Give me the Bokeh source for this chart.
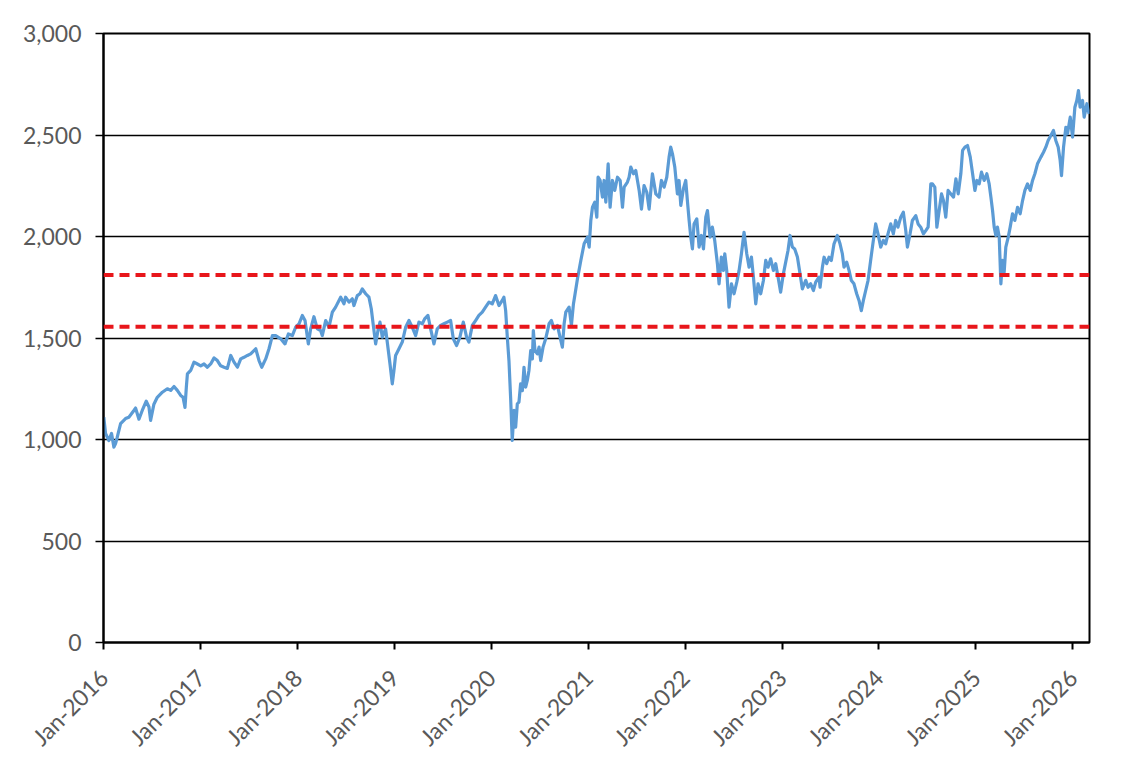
from datetime import datetime
from bokeh.plotting import figure
from bokeh.models import Range1d, FixedTicker, DatetimeTickFormatter, NumeralTickFormatter, Span, ColumnDataSource
from bokeh.embed import file_html
from bokeh.resources import INLINE

# ---- data ----
year_pos = [
    2016.003, 2016.021, 2016.055, 2016.083, 2016.107, 2016.124, 2016.141, 2016.176, 2016.227, 2016.261,
    2016.313, 2016.330, 2016.365, 2016.399, 2016.440, 2016.468, 2016.485, 2016.519, 2016.554, 2016.606,
    2016.657, 2016.692, 2016.726, 2016.760, 2016.795, 2016.819, 2016.839, 2016.853, 2016.864, 2016.898,
    2016.932, 2016.967, 2017.001, 2017.035, 2017.070, 2017.104, 2017.139, 2017.173, 2017.207, 2017.242,
    2017.276, 2017.311, 2017.345, 2017.380, 2017.414, 2017.448, 2017.483, 2017.517, 2017.569, 2017.603,
    2017.631, 2017.672, 2017.706, 2017.741, 2017.775, 2017.827, 2017.871, 2017.906, 2017.947, 2017.981,
    2018.016, 2018.050, 2018.078, 2018.112, 2018.136, 2018.170, 2018.205, 2018.239, 2018.256, 2018.291,
    2018.325, 2018.360, 2018.394, 2018.446, 2018.480,
    2018.497, 2018.532, 2018.566, 2018.583, 2018.618, 2018.645, 2018.669, 2018.704, 2018.738, 2018.762,
    2018.783, 2018.807, 2018.831, 2018.852, 2018.876, 2018.910, 2018.927, 2018.955, 2018.979, 2018.996,
    2019.013, 2019.048, 2019.082, 2019.117, 2019.151, 2019.185, 2019.220, 2019.254, 2019.289, 2019.313,
    2019.347, 2019.375, 2019.409, 2019.443, 2019.478, 2019.512, 2019.547, 2019.581, 2019.609, 2019.643,
    2019.677, 2019.712, 2019.746, 2019.770, 2019.805, 2019.839, 2019.873, 2019.908, 2019.942, 2019.977,
    2020.011, 2020.045, 2020.080, 2020.114, 2020.131, 2020.149, 2020.166, 2020.183, 2020.200, 2020.217,
    2020.235, 2020.252, 2020.269, 2020.286, 2020.303, 2020.321, 2020.338, 2020.355, 2020.372, 2020.389,
    2020.407, 2020.424, 2020.434, 2020.451, 2020.475, 2020.493, 2020.510, 2020.534, 2020.561, 2020.596,
    2020.620, 2020.647, 2020.682, 2020.709, 2020.733, 2020.751, 2020.768, 2020.802, 2020.826, 2020.847,
    2020.864, 2020.888,
    2020.923, 2020.957, 2020.991, 2021.009, 2021.026, 2021.043, 2021.067, 2021.088, 2021.101, 2021.122,
    2021.146, 2021.163, 2021.181, 2021.205, 2021.225, 2021.249, 2021.273, 2021.301, 2021.329, 2021.353,
    2021.370, 2021.404, 2021.421, 2021.439, 2021.466, 2021.490, 2021.525, 2021.549, 2021.576, 2021.604,
    2021.628, 2021.662, 2021.697, 2021.731, 2021.755, 2021.783, 2021.810, 2021.834, 2021.851, 2021.869,
    2021.893, 2021.920, 2021.937, 2021.955, 2021.982, 2022.006, 2022.023, 2022.041, 2022.058, 2022.075,
    2022.092, 2022.120, 2022.144, 2022.168, 2022.189, 2022.213, 2022.230, 2022.257, 2022.281, 2022.305,
    2022.333, 2022.350, 2022.374, 2022.395, 2022.409, 2022.429, 2022.453, 2022.478, 2022.505, 2022.533,
    2022.557, 2022.581, 2022.608, 2022.636, 2022.660, 2022.684, 2022.705, 2022.729, 2022.753, 2022.780,
    2022.808, 2022.832, 2022.856, 2022.883, 2022.911, 2022.935, 2022.959, 2022.986, 2023.014, 2023.038,
    2023.062, 2023.083, 2023.107, 2023.131, 2023.159, 2023.186, 2023.210, 2023.245, 2023.269, 2023.296,
    2023.324, 2023.348, 2023.382,
    2023.393, 2023.417, 2023.434, 2023.461, 2023.485, 2023.509, 2023.537, 2023.571, 2023.599, 2023.623,
    2023.640, 2023.668, 2023.692, 2023.716, 2023.743, 2023.771, 2023.795, 2023.819, 2023.840, 2023.864,
    2023.888, 2023.915, 2023.943, 2023.967, 2023.991, 2024.019, 2024.046, 2024.070, 2024.094, 2024.122,
    2024.149, 2024.173, 2024.197, 2024.225, 2024.252, 2024.277, 2024.294, 2024.321, 2024.345, 2024.380,
    2024.404, 2024.431, 2024.459, 2024.483, 2024.507, 2024.535, 2024.552, 2024.576, 2024.597, 2024.621,
    2024.645, 2024.665, 2024.689, 2024.713, 2024.741, 2024.769, 2024.793, 2024.817, 2024.844, 2024.862,
    2024.886, 2024.913, 2024.941, 2024.965, 2024.989, 2025.009, 2025.033, 2025.057, 2025.085, 2025.112,
    2025.136, 2025.154, 2025.171, 2025.188, 2025.205, 2025.222, 2025.240, 2025.257, 2025.274, 2025.291,
    2025.308, 2025.333, 2025.353, 2025.377, 2025.401, 2025.429, 2025.456, 2025.481, 2025.505, 2025.532,
    2025.560, 2025.584, 2025.608, 2025.635, 2025.670, 2025.697, 2025.721, 2025.745, 2025.773, 2025.800,
    2025.824, 2025.849, 2025.869, 2025.883, 2025.904, 2025.928, 2025.945, 2025.973, 2025.997, 2026.021,
    2026.041, 2026.058, 2026.075, 2026.100, 2026.117, 2026.145, 2026.168,
]

index_values = [
    1110, 1030, 995, 1030, 962, 980, 1010, 1078, 1103, 1110,
    1143, 1155, 1100, 1143, 1189, 1160, 1094, 1174, 1208, 1233,
    1250, 1242, 1261, 1242, 1217, 1208, 1158, 1258, 1323, 1340,
    1381, 1372, 1363, 1372, 1356, 1372, 1402, 1389, 1363, 1356,
    1350, 1414, 1381, 1356, 1397, 1405, 1414, 1422, 1447, 1389,
    1356, 1397, 1447, 1512, 1512, 1496, 1471, 1520, 1512, 1553,
    1570, 1611, 1586, 1471, 1545, 1605, 1545, 1537, 1512, 1586,
    1553, 1627, 1652, 1701, 1668,
    1701, 1677, 1693, 1660, 1709, 1718, 1742, 1718, 1701, 1644,
    1562, 1471, 1537, 1578, 1504, 1545, 1480, 1373, 1274, 1340,
    1414, 1447, 1480, 1553, 1586, 1553, 1512, 1578, 1570, 1594,
    1611, 1545, 1471, 1545, 1562, 1570, 1578, 1586, 1496, 1463,
    1504, 1578, 1504, 1480, 1562, 1586, 1611, 1627, 1652, 1677,
    1668, 1709, 1660, 1685, 1701, 1635, 1504, 1389, 1208, 995,
    1143, 1061, 1176, 1184, 1274, 1241, 1356, 1258, 1291, 1340,
    1438, 1397, 1537, 1438, 1422, 1455, 1389, 1455, 1496, 1570,
    1586, 1545, 1562, 1504, 1455, 1570, 1627, 1652, 1562, 1668,
    1718, 1791,
    1882, 1964, 1997, 1948, 2079, 2144, 2169, 2095, 2292, 2276,
    2194, 2276, 2169, 2358, 2144, 2276, 2227, 2292, 2276, 2144,
    2243, 2268, 2292, 2342, 2309, 2325, 2227, 2135, 2251, 2218,
    2135, 2309, 2210, 2194, 2276, 2243, 2292, 2391, 2440, 2407,
    2342, 2210, 2276, 2153, 2235, 2276, 2177, 2079, 1997, 1939,
    2062, 2087, 1948, 2005, 1939, 2095, 2128, 1997, 2046, 1981,
    1866, 1767, 1899, 1833, 1915, 1833, 1652, 1767, 1718, 1775,
    1833, 1915, 2021, 1915, 1849, 1899, 1800, 1668, 1767, 1718,
    1783, 1882, 1849, 1890, 1833, 1866, 1800, 1726, 1816, 1874,
    1931, 2005, 1948, 1939, 1899, 1816, 1742, 1784, 1750, 1767,
    1734, 1775, 1800,
    1750, 1849, 1898, 1866, 1898, 1882, 1964, 2005, 1964, 1915,
    1849, 1874, 1833, 1783, 1767, 1718, 1685, 1635, 1685, 1734,
    1783, 1882, 1981, 2062, 2013, 1948, 1981, 1964, 2013, 2062,
    2013, 2079, 2046, 2095, 2120, 2029, 1948, 2013, 2079, 2103,
    2062, 2046, 2013, 2029, 2046, 2259, 2259, 2243, 2046, 2128,
    2210, 2177, 2095, 2227, 2210, 2194, 2284, 2210, 2309, 2424,
    2440, 2448, 2391, 2309, 2227, 2276, 2259, 2317, 2276, 2309,
    2259, 2194, 2128, 2046, 2005, 2046, 1997, 1767, 1882, 1825,
    1948, 1997, 2046, 2112, 2079, 2144, 2112, 2177, 2227, 2259,
    2227, 2276, 2309, 2358, 2391, 2415, 2440, 2473, 2498, 2522,
    2473, 2440, 2375, 2300, 2440, 2538, 2506, 2588, 2490, 2637,
    2670, 2719, 2637, 2670, 2588, 2654, 2604,
]

reference_levels = [1810, 1555]
y_ticks = [0, 500, 1000, 1500, 2000, 2500, 3000]
x_tick_years = [2016, 2017, 2018, 2019, 2020, 2021, 2022, 2023, 2024, 2025, 2026]
x_end_year = 2026.172


def to_dt(y):
    yr = int(y)
    start = datetime(yr, 1, 1)
    end = datetime(yr + 1, 1, 1)
    return start + (end - start) * (y - yr)


EPOCH = datetime(1970, 1, 1)


def to_ms(d):
    return (d - EPOCH).total_seconds() * 1000.0


dates = [to_dt(y) for y in year_pos]
src = ColumnDataSource(data=dict(date=dates, value=index_values))

FONT = "Lato"
LABEL_COLOR = "#595959"

p = figure(
    x_axis_type="datetime",
    frame_width=986, frame_height=609,
    min_border_left=103, min_border_right=40, min_border_top=33, min_border_bottom=115,
    output_backend="svg", toolbar_location=None,
    x_range=Range1d(datetime(x_tick_years[0], 1, 1), to_dt(x_end_year)),
    y_range=Range1d(y_ticks[0], y_ticks[-1]),
    background_fill_color="white", border_fill_color="white",
)

p.outline_line_color = "black"
p.outline_line_width = 2

# grid
p.xgrid.grid_line_color = None
p.ygrid.grid_line_color = "black"
p.ygrid.grid_line_width = 1.5
p.ygrid.ticker = FixedTicker(ticks=y_ticks)

# y axis
p.yaxis.ticker = FixedTicker(ticks=y_ticks)
p.yaxis.formatter = NumeralTickFormatter(format="0,0")
p.yaxis.axis_line_color = "black"
p.yaxis.axis_line_width = 2
p.yaxis.major_tick_line_color = "black"
p.yaxis.major_tick_line_width = 1.5
p.yaxis.major_tick_out = 8
p.yaxis.major_tick_in = 0
p.yaxis.minor_tick_line_color = None
p.yaxis.major_label_standoff = 14
p.yaxis.major_label_text_font = FONT
p.yaxis.major_label_text_font_size = "23px"
p.yaxis.major_label_text_color = LABEL_COLOR

# x axis
p.xaxis.ticker = FixedTicker(ticks=[to_ms(datetime(y, 1, 1)) for y in x_tick_years])
fmt = "%b-%Y"
p.xaxis.formatter = DatetimeTickFormatter(
    milliseconds=fmt, seconds=fmt, minsec=fmt, minutes=fmt, hourmin=fmt, hours=fmt,
    days=fmt, months=fmt, years=fmt,
)
p.xaxis.axis_line_color = "black"
p.xaxis.axis_line_width = 2
p.xaxis.major_tick_line_color = "black"
p.xaxis.major_tick_line_width = 2
p.xaxis.major_tick_out = 7
p.xaxis.major_tick_in = 0
p.xaxis.minor_tick_line_color = None
p.xaxis.major_label_orientation = 0.785398
p.xaxis.major_label_standoff = 24
p.xaxis.major_label_text_font = FONT
p.xaxis.major_label_text_font_size = "23px"
p.xaxis.major_label_text_color = LABEL_COLOR

# series
p.line(x="date", y="value", source=src, line_color="#5B9BD5", line_width=3.2, line_join="round")

# reference lines
for lvl in reference_levels:
    p.add_layout(Span(location=lvl, dimension="width", line_color="#E8161B",
                      line_width=4, line_dash="10 6"))

open("out.html", "w").write(file_html(p, INLINE))
